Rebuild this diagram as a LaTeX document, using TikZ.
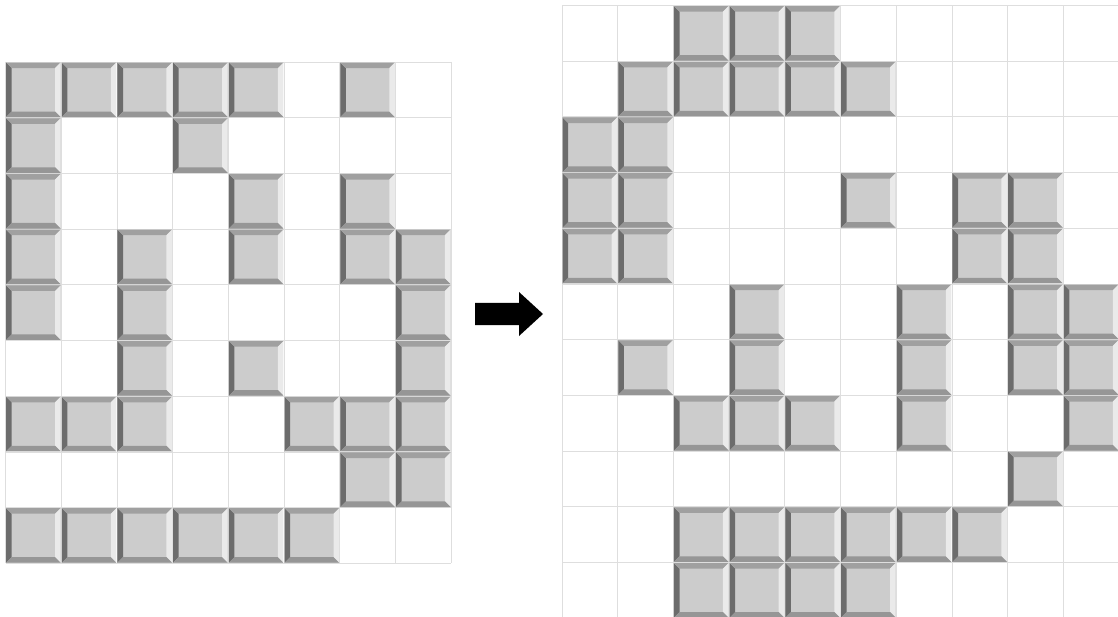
\documentclass[tikz,border=0pt]{standalone}
\usepackage{tikz}
\definecolor{tileface}{RGB}{204,204,204}
\definecolor{tiledark}{RGB}{108,108,108}
\definecolor{tilemid}{RGB}{160,160,160}
\definecolor{tilelow}{RGB}{150,150,150}
\definecolor{tilelight}{RGB}{234,234,234}
\definecolor{gridgray}{RGB}{222,222,222}

\tikzset{
  tile/.pic={
    \fill[tileface] (0.01,0.01) rectangle (0.99,0.99);
    \fill[tiledark] (0.01,0.01) -- (0.11,0.11) -- (0.11,0.89) -- (0.01,0.99) -- cycle;
    \fill[tilemid] (0.01,0.01) -- (0.99,0.01) -- (0.89,0.11) -- (0.11,0.11) -- cycle;
    \fill[tilelight] (0.99,0.01) -- (0.99,0.99) -- (0.89,0.89) -- (0.89,0.11) -- cycle;
    \fill[tilelow] (0.01,0.99) -- (0.11,0.89) -- (0.89,0.89) -- (0.99,0.99) -- cycle;
  }
}

\begin{document}
\begin{tikzpicture}[
  x=1pt, y=-1pt,
  gridl/.style={gridgray, line width=0.8pt},
  board/.style={x=55.7pt, y=-55.7pt},
]
  \useasboundingbox (0,0) rectangle (1118,617);
  \clip (0,0) rectangle (1118,617);

  % before
  \begin{scope}[shift={(5.5pt,-62pt)}, board]
    \foreach \i in {0,...,8} \draw[gridl] (\i,0) -- (\i,9);
    \foreach \j in {0,...,9} \draw[gridl] (0,\j) -- (8,\j);
    \foreach \r/\cols in {0/{0,1,2,3,4,6}, 1/{0,3}, 2/{0,4,6}, 3/{0,2,4,6,7},
                          4/{0,2,7}, 5/{2,4,7}, 6/{0,1,2,5,6,7}, 7/{6,7},
                          8/{0,1,2,3,4,5}}
      \foreach \c in \cols \pic at (\c,\r) {tile};
  \end{scope}

  % arrow
  \fill[black] (475,303) -- (519,303) -- (519,292) -- (543,314)
    -- (519,336) -- (519,325) -- (475,325) -- cycle;

  % after
  \begin{scope}[shift={(562pt,-5.5pt)}, board]
    \foreach \i in {0,...,10} \draw[gridl] (\i,0) -- (\i,11);
    \foreach \j in {0,...,11} \draw[gridl] (0,\j) -- (10,\j);
    \foreach \r/\cols in {0/{2,3,4}, 1/{1,2,3,4,5}, 2/{0,1}, 3/{0,1,5,7,8},
                          4/{0,1,7,8}, 5/{3,6,8,9}, 6/{1,3,6,8,9},
                          7/{2,3,4,6,9}, 8/{8}, 9/{2,3,4,5,6,7},
                          10/{2,3,4,5}}
      \foreach \c in \cols \pic at (\c,\r) {tile};
  \end{scope}
\end{tikzpicture}
\end{document}
